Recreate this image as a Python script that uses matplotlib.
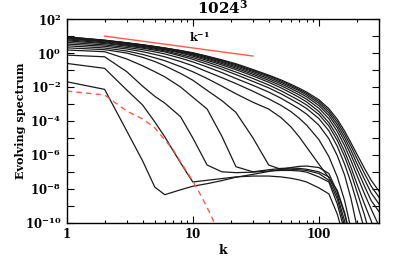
import numpy as np
import matplotlib
matplotlib.use("Agg")
import matplotlib.pyplot as plt

plt.rcParams['font.family'] = ['DejaVu Serif']
plt.rcParams['mathtext.fontset'] = 'dejavuserif'

# wavenumber nodes where spectra were read
K = [1, 2, 3, 4, 5, 6, 8, 10, 13, 17, 22, 30, 40, 50, 60, 70, 80, 100, 120, 140, 160, 180, 200, 230, 260, 300]

# log10 of spectra at the nodes, from earliest (lowest) to latest (top)
c0 = [-1.69, -2.14, -4.60, -6.35, -7.90, -8.35, -8.06, -7.85, -7.70, -7.52, -7.32, -7.15, -6.98, -6.85, -6.75, -6.68, -6.66, -6.75, -7.10, -8.20, -9.50, -11.0, -13, -13, -13, -13]
c1 = [-0.61, -0.90, -2.18, -3.06, -4.06, -4.94, -6.47, -7.60, -7.50, -7.40, -7.30, -7.25, -7.25, -7.30, -7.38, -7.48, -7.60, -7.95, -8.30, -9.50, -11.0, -13, -13, -13, -13, -13]
c2 = [-0.12, -0.22, -1.10, -1.95, -2.55, -2.95, -3.75, -5.00, -6.60, -7.00, -7.05, -7.02, -6.95, -6.92, -6.92, -6.95, -7.02, -7.30, -7.60, -8.90, -10.5, -13, -13, -13, -13, -13]
c3 = [0.18, 0.08, -0.35, -0.75, -1.10, -1.40, -2.00, -2.60, -3.30, -4.90, -6.70, -7.00, -6.88, -6.80, -6.78, -6.80, -6.85, -7.00, -7.30, -8.40, -9.90, -12, -13, -13, -13, -13]
c4 = [0.31, 0.20, 0.00, -0.25, -0.50, -0.75, -1.20, -1.60, -2.20, -2.80, -3.50, -5.00, -6.60, -6.85, -6.85, -6.88, -6.92, -7.10, -7.50, -8.60, -10.2, -12, -13, -13, -13, -13]
c5 = [0.43, 0.30, 0.12, -0.08, -0.28, -0.45, -0.80, -1.10, -1.50, -1.95, -2.40, -2.90, -3.30, -3.80, -4.35, -4.95, -5.55, -6.55, -7.35, -8.10, -9.40, -11.0, -13, -13, -13, -13]
c6 = [0.53, 0.40, 0.24, 0.08, -0.08, -0.22, -0.50, -0.75, -1.10, -1.45, -1.80, -2.25, -2.70, -3.08, -3.45, -3.85, -4.25, -5.10, -6.10, -7.30, -8.70, -10.4, -12, -13, -13, -13]
c7 = [0.63, 0.48, 0.33, 0.20, 0.07, -0.05, -0.30, -0.52, -0.82, -1.15, -1.50, -1.90, -2.30, -2.66, -3.00, -3.30, -3.60, -4.25, -5.05, -6.05, -7.20, -8.60, -10.2, -12, -13, -13]
c8 = [0.72, 0.56, 0.41, 0.29, 0.17, 0.07, -0.17, -0.37, -0.65, -0.95, -1.27, -1.67, -2.05, -2.40, -2.72, -3.00, -3.27, -3.86, -4.58, -5.50, -6.55, -7.65, -8.80, -10.4, -12, -13]
c9 = [0.78, 0.61, 0.46, 0.34, 0.23, 0.13, -0.09, -0.27, -0.53, -0.82, -1.12, -1.50, -1.88, -2.22, -2.53, -2.80, -3.06, -3.62, -4.30, -5.15, -6.10, -7.10, -8.15, -9.55, -11.0, -12.5]
c10 = [0.84, 0.66, 0.51, 0.39, 0.28, 0.19, 0.00, -0.18, -0.43, -0.70, -0.98, -1.35, -1.72, -2.05, -2.35, -2.62, -2.88, -3.44, -4.10, -4.90, -5.80, -6.75, -7.70, -8.90, -9.90, -11.3]
c11 = [0.88, 0.70, 0.55, 0.43, 0.32, 0.23, 0.05, -0.12, -0.36, -0.62, -0.89, -1.25, -1.61, -1.92, -2.21, -2.47, -2.72, -3.25, -3.87, -4.62, -5.47, -6.35, -7.20, -8.30, -9.20, -10.2]
c12 = [0.91, 0.72, 0.57, 0.45, 0.35, 0.26, 0.09, -0.07, -0.30, -0.55, -0.81, -1.16, -1.51, -1.81, -2.09, -2.34, -2.58, -3.09, -3.68, -4.40, -5.20, -6.02, -6.82, -7.85, -8.70, -9.35]
c13 = [0.93, 0.74, 0.59, 0.47, 0.37, 0.28, 0.12, -0.03, -0.25, -0.49, -0.74, -1.08, -1.42, -1.72, -1.99, -2.23, -2.47, -2.96, -3.53, -4.22, -4.98, -5.75, -6.50, -7.45, -8.25, -8.90]
c14 = [0.95, 0.75, 0.60, 0.48, 0.38, 0.29, 0.14, 0.00, -0.21, -0.44, -0.68, -1.02, -1.35, -1.64, -1.91, -2.15, -2.38, -2.85, -3.40, -4.05, -4.78, -5.50, -6.20, -7.10, -7.85, -8.50]
c15 = [0.96, 0.76, 0.61, 0.49, 0.39, 0.30, 0.15, 0.02, -0.18, -0.40, -0.63, -0.97, -1.30, -1.58, -1.84, -2.08, -2.30, -2.75, -3.28, -3.90, -4.60, -5.30, -5.95, -6.80, -7.50, -8.15]
curves = [c0, c1, c2, c3, c4, c5, c6, c7, c8, c9, c10, c11, c12, c13, c14, c15]

# initial spectrum (red dashed)
k_init = [1, 2, 3, 4, 5, 6, 7, 8, 9, 10, 12, 14, 15, 16]
e_init = [-2.24, -2.47, -3.42, -3.88, -4.41, -5.12, -5.70, -6.41, -7.00, -7.53, -8.59, -9.59, -10.1, -10.6]

# reference slope k^-1
k_ref = [2, 30]
e_ref = [10.0, 0.667]

title = "1024$^\\mathbf{3}$"
ylabel = "Evolving spectrum"
xlabel = "k"
red = '#ff5a46'

fig = plt.figure(figsize=(3.99, 2.62), dpi=100)
ax = fig.add_axes([0.167, 0.150, 0.783, 0.777])
ax.set_xscale('log')
ax.set_yscale('log')

for c in curves:
    ax.plot(K, 10.0 ** np.array(c), color='#1a1a1a', lw=0.9)
ax.plot(k_init, 10.0 ** np.array(e_init), color=red, lw=1.0, dashes=(4, 3))
ax.plot(k_ref, e_ref, color=red, lw=1.0)
ax.text(11.4, 8.7, r'$\mathbf{k^{-1}}$', fontsize=8, ha='center', va='center')

ax.set_xlim(1, 300)
ax.set_ylim(1e-10, 1e2)

ax.set_xticks([1, 10, 100])
ax.set_xticklabels(['1', '10', '100'], fontweight='bold', fontsize=8.5)
ax.set_xticks([2, 3, 4, 5, 6, 7, 8, 9, 20, 30, 40, 50, 60, 70, 80, 90, 200, 300], minor=True)
ax.xaxis.set_minor_formatter(matplotlib.ticker.NullFormatter())

yt = [10.0 ** p for p in range(-10, 3)]
ylabs = [(r'$\mathbf{10^{%d}}$' % p) if p % 2 == 0 else '' for p in range(-10, 3)]
ax.set_yticks(yt)
ax.set_yticklabels(ylabs, fontsize=8.5)
ax.yaxis.set_minor_locator(matplotlib.ticker.NullLocator())

ax.tick_params(which='both', direction='in', top=True, right=True, width=0.8)
ax.tick_params(which='major', length=5, pad=4)
ax.tick_params(which='minor', length=2.5)
for s in ax.spines.values():
    s.set_linewidth(1.0)

ax.set_title(title, fontweight='bold', fontsize=11, pad=4)
ax.set_xlabel(xlabel, fontweight='bold', fontsize=9, labelpad=2)
ax.set_ylabel(ylabel, fontweight='bold', fontsize=8)
ax.yaxis.set_label_coords(-0.13, 0.5)

fig.savefig('out.png', dpi=100)
